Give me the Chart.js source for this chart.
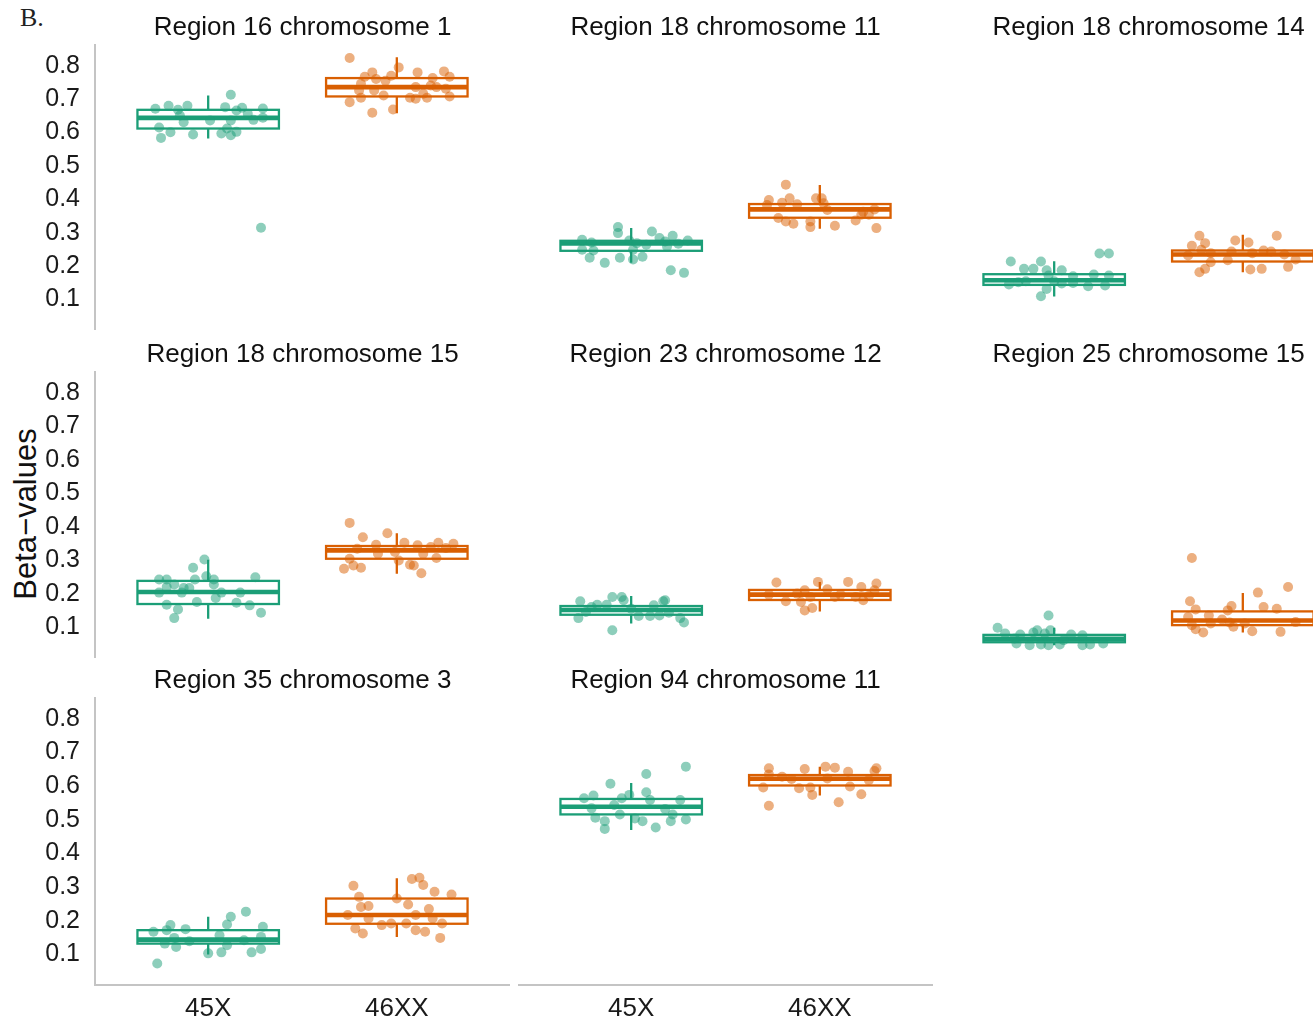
<!DOCTYPE html>
<html>
<head>
<meta charset="utf-8">
<script src="https://cdn.jsdelivr.net/npm/chart.js@4.4.1/dist/chart.umd.min.js"></script>
<style>
html,body{margin:0;padding:0;background:#fff;overflow:hidden;width:1313px;height:1023px;}
#wrap{position:relative;width:1313px;height:1023px;overflow:hidden;background:#fff;}
#wrap canvas{position:absolute;}
.lbl{position:absolute;white-space:nowrap;line-height:1;}
</style>
</head>
<body>
<div id="wrap">
  <div class="lbl" id="tag" style="left:20px;top:5px;font-family:'Liberation Serif','DejaVu Serif',serif;font-size:26px;color:#222;">B.</div>
  <div class="lbl" id="ytitle" style="left:25px;top:514px;transform:translate(-50%,-50%) rotate(-90deg);font-family:'Liberation Sans',Arial,sans-serif;font-size:31px;color:#111;">Beta−values</div>
</div>
<script>
// ---------------- DATA ----------------
const panelTitles = [
  'Region 16 chromosome 1', 'Region 18 chromosome 11', 'Region 18 chromosome 14',
  'Region 18 chromosome 15', 'Region 23 chromosome 12', 'Region 25 chromosome 15',
  'Region 35 chromosome 3', 'Region 94 chromosome 11'
];
const groups = ['45X', '46XX'];
const yTicks = [0.1, 0.2, 0.3, 0.4, 0.5, 0.6, 0.7, 0.8];

// box statistics per panel (order of panelTitles)
const lo45X   = [0.576, 0.204, 0.103, 0.120, 0.106, 0.041, 0.094, 0.464];
const q1_45X  = [0.606, 0.240, 0.138, 0.164, 0.132, 0.050, 0.126, 0.510];
const med45X  = [0.638, 0.262, 0.152, 0.200, 0.146, 0.060, 0.138, 0.533];
const q3_45X  = [0.662, 0.270, 0.170, 0.233, 0.158, 0.072, 0.166, 0.556];
const hi45X   = [0.705, 0.308, 0.209, 0.296, 0.188, 0.093, 0.206, 0.603];
const lo46XX  = [0.652, 0.306, 0.176, 0.254, 0.142, 0.079, 0.146, 0.566];
const q1_46XX = [0.702, 0.339, 0.208, 0.299, 0.176, 0.101, 0.185, 0.596];
const med46XX = [0.730, 0.364, 0.229, 0.324, 0.192, 0.115, 0.211, 0.616];
const q3_46XX = [0.757, 0.380, 0.241, 0.337, 0.206, 0.142, 0.260, 0.627];
const hi46XX  = [0.819, 0.437, 0.288, 0.375, 0.230, 0.197, 0.320, 0.652];

// individual samples: [jitter offset, beta-value]
const r16c1_45X = [[-0.28,0.665],[-0.21,0.674],[-0.16,0.662],[-0.11,0.674],[-0.13,0.625],[-0.26,0.609],[-0.25,0.578],[-0.20,0.595],[-0.08,0.588],[0.01,0.630],[0.12,0.707],[0.09,0.670],[0.15,0.660],[0.18,0.668],[0.21,0.650],[0.29,0.666],[0.24,0.632],[0.29,0.638],[0.07,0.591],[0.12,0.586],[0.15,0.596],[0.10,0.606],[0.12,0.630],[0.28,0.309],[-0.15,0.645]];
const r16c1_46XX = [[-0.25,0.817],[-0.17,0.761],[-0.13,0.774],[-0.11,0.754],[-0.06,0.749],[-0.03,0.764],[0.01,0.789],[-0.19,0.740],[-0.20,0.720],[-0.19,0.698],[-0.25,0.685],[-0.13,0.653],[-0.07,0.705],[-0.12,0.720],[-0.02,0.663],[0.11,0.774],[0.10,0.730],[0.07,0.698],[0.10,0.695],[0.14,0.710],[0.16,0.698],[0.19,0.757],[0.21,0.730],[0.25,0.777],[0.28,0.761],[0.26,0.725],[0.28,0.702],[0.18,0.735]];
const r18c11_45X = [[-0.26,0.273],[-0.21,0.265],[-0.26,0.243],[-0.20,0.241],[-0.22,0.219],[-0.14,0.204],[-0.06,0.219],[-0.07,0.311],[-0.07,0.293],[-0.01,0.271],[0.01,0.243],[0.01,0.214],[0.06,0.222],[0.11,0.298],[0.15,0.278],[0.18,0.268],[0.22,0.285],[0.19,0.253],[0.25,0.261],[0.30,0.271],[0.21,0.182],[0.28,0.174],[0.08,0.258],[0.03,0.263]];
const r18c11_46XX = [[-0.18,0.438],[-0.27,0.392],[-0.20,0.384],[-0.16,0.397],[-0.12,0.379],[-0.28,0.377],[-0.22,0.338],[-0.18,0.328],[-0.14,0.321],[-0.05,0.328],[-0.05,0.311],[-0.02,0.397],[0.01,0.397],[0.02,0.382],[0.04,0.362],[0.08,0.315],[0.19,0.331],[0.23,0.357],[0.26,0.348],[0.29,0.364],[0.30,0.308],[0.22,0.348]];
const r18c14_45X = [[-0.23,0.208],[-0.16,0.186],[-0.11,0.186],[-0.07,0.208],[-0.04,0.182],[0.04,0.182],[-0.07,0.104],[-0.04,0.126],[-0.24,0.139],[-0.19,0.146],[-0.03,0.166],[0.04,0.142],[0.10,0.164],[0.10,0.144],[0.18,0.134],[0.21,0.169],[0.24,0.232],[0.29,0.232],[0.27,0.136],[0.29,0.166],[0.00,0.149],[-0.15,0.149]];
const r18c14_46XX = [[-0.23,0.285],[-0.27,0.255],[-0.20,0.263],[-0.22,0.243],[-0.17,0.233],[-0.29,0.226],[-0.17,0.206],[-0.20,0.186],[-0.23,0.176],[-0.08,0.212],[-0.06,0.238],[-0.04,0.271],[0.03,0.265],[0.04,0.184],[0.10,0.186],[0.11,0.241],[0.15,0.238],[0.18,0.285],[0.24,0.192],[0.28,0.214],[0.22,0.229],[0.05,0.233]];
const r18c15_45X = [[-0.02,0.297],[-0.08,0.272],[-0.26,0.237],[-0.22,0.237],[-0.18,0.222],[-0.22,0.215],[-0.26,0.198],[-0.14,0.198],[-0.10,0.212],[-0.07,0.237],[-0.01,0.247],[0.03,0.237],[0.03,0.222],[-0.22,0.162],[-0.16,0.148],[-0.18,0.122],[-0.06,0.170],[0.04,0.182],[0.07,0.198],[0.15,0.168],[0.17,0.198],[0.22,0.160],[0.25,0.244],[0.28,0.138],[-0.13,0.212]];
const r18c15_46XX = [[-0.25,0.406],[-0.18,0.363],[-0.05,0.375],[-0.11,0.341],[-0.21,0.329],[-0.25,0.299],[-0.23,0.279],[-0.28,0.269],[-0.19,0.272],[-0.10,0.314],[0.01,0.294],[0.04,0.347],[0.07,0.281],[0.09,0.279],[0.11,0.339],[0.14,0.314],[0.13,0.256],[0.18,0.334],[0.21,0.301],[0.22,0.347],[0.26,0.331],[0.30,0.344],[-0.01,0.319]];
const r23c12_45X = [[-0.27,0.172],[-0.28,0.122],[-0.24,0.140],[-0.18,0.162],[-0.13,0.162],[-0.10,0.185],[-0.05,0.185],[-0.04,0.175],[-0.10,0.086],[0.04,0.128],[0.10,0.128],[0.15,0.130],[0.12,0.160],[0.17,0.172],[0.18,0.175],[0.20,0.138],[0.26,0.122],[0.28,0.109],[0.00,0.150],[-0.21,0.155]];
const r23c12_46XX = [[-0.23,0.228],[-0.18,0.172],[-0.12,0.195],[-0.10,0.170],[-0.08,0.205],[-0.05,0.185],[-0.08,0.145],[-0.04,0.152],[-0.01,0.230],[0.04,0.208],[0.08,0.185],[0.15,0.230],[0.22,0.215],[0.23,0.175],[0.29,0.205],[0.30,0.225],[0.26,0.188],[-0.27,0.192],[0.11,0.192],[0.19,0.185]];
const r25c15_45X = [[-0.30,0.093],[-0.26,0.076],[-0.20,0.046],[-0.18,0.073],[-0.13,0.041],[-0.11,0.079],[-0.09,0.086],[-0.07,0.043],[-0.03,0.130],[-0.02,0.086],[-0.03,0.041],[0.03,0.043],[0.09,0.073],[0.15,0.071],[0.15,0.041],[0.19,0.043],[0.26,0.046],[-0.21,0.061],[-0.05,0.076],[0.05,0.056]];
const r25c15_46XX = [[-0.27,0.301],[-0.28,0.172],[-0.25,0.148],[-0.29,0.125],[-0.27,0.101],[-0.25,0.089],[-0.21,0.079],[-0.18,0.130],[-0.17,0.106],[-0.11,0.118],[-0.08,0.145],[-0.06,0.158],[-0.07,0.109],[-0.05,0.096],[0.01,0.106],[0.05,0.083],[0.08,0.198],[0.11,0.155],[0.18,0.150],[0.20,0.081],[0.24,0.215],[0.28,0.110]];
const r35c3_45X = [[-0.27,0.067],[-0.29,0.161],[-0.20,0.181],[-0.22,0.166],[-0.23,0.126],[-0.17,0.116],[-0.12,0.169],[-0.10,0.133],[0.00,0.097],[0.07,0.100],[0.06,0.151],[0.10,0.183],[0.12,0.206],[0.10,0.121],[0.20,0.221],[0.23,0.100],[0.28,0.110],[0.29,0.176],[0.28,0.146],[0.19,0.136],[-0.18,0.143]];
const r35c3_46XX = [[-0.23,0.298],[-0.20,0.265],[-0.19,0.235],[-0.15,0.238],[-0.26,0.211],[-0.22,0.171],[-0.18,0.156],[-0.15,0.201],[-0.08,0.181],[-0.03,0.186],[0.00,0.260],[0.06,0.242],[0.05,0.186],[0.08,0.318],[0.12,0.322],[0.14,0.300],[0.10,0.166],[0.15,0.161],[0.17,0.229],[0.20,0.280],[0.19,0.201],[0.24,0.186],[0.23,0.143],[0.29,0.272],[0.10,0.211]];
const r94c11_45X = [[-0.25,0.558],[-0.20,0.566],[-0.11,0.601],[-0.19,0.500],[-0.14,0.490],[-0.14,0.467],[-0.09,0.538],[-0.05,0.558],[-0.06,0.510],[-0.01,0.568],[0.02,0.498],[0.06,0.490],[0.08,0.630],[0.08,0.576],[0.10,0.553],[0.13,0.471],[0.18,0.526],[0.21,0.490],[0.22,0.510],[0.26,0.553],[0.29,0.495],[0.29,0.652],[-0.21,0.528]];
const r94c11_46XX = [[-0.27,0.647],[-0.27,0.629],[-0.30,0.590],[-0.27,0.536],[-0.20,0.622],[-0.15,0.615],[-0.11,0.588],[-0.08,0.645],[-0.05,0.590],[-0.04,0.568],[0.03,0.652],[0.08,0.649],[0.10,0.546],[0.15,0.637],[0.16,0.593],[0.22,0.570],[0.29,0.639],[0.30,0.647],[0.04,0.617],[0.26,0.612]];

const samples45X  = [r16c1_45X, r18c11_45X, r18c14_45X, r18c15_45X, r23c12_45X, r25c15_45X, r35c3_45X, r94c11_45X];
const samples46XX = [r16c1_46XX, r18c11_46XX, r18c14_46XX, r18c15_46XX, r23c12_46XX, r25c15_46XX, r35c3_46XX, r94c11_46XX];

// ---------------- STYLE / LAYOUT ----------------
const FONT = "'Liberation Sans', Arial, Helvetica, sans-serif";
const lineColors  = ['#1b9e77', '#d95f02'];
const pointColors = ['rgba(27,158,119,0.5)', 'rgba(217,95,2,0.5)'];
const AXIS = '#c4c4c4';
const colLeft = [95, 518, 941];
const rowTop = [45, 372, 698];
const rowBottom = [330, 658, 985];
const areaW = 415;
const yAxisW = 65, titleH = 34, xAxisH = 40;
const BOX_HALF = 0.375;

const boxPlugin = {
  id: 'boxes',
  beforeDatasetsDraw(chart, args, opts) {
    const {ctx, chartArea, scales: {x, y}} = chart;
    ctx.save();
    ctx.beginPath();
    ctx.rect(chartArea.left, chartArea.top, chartArea.right - chartArea.left, chartArea.bottom - chartArea.top);
    ctx.clip();
    (opts.stats || []).forEach((s, k) => {
      const c = k + 1;
      const xl = x.getPixelForValue(c - BOX_HALF), xr = x.getPixelForValue(c + BOX_HALF);
      const xc = x.getPixelForValue(c);
      const yq1 = y.getPixelForValue(s.q1), yq3 = y.getPixelForValue(s.q3);
      const ym = y.getPixelForValue(s.med);
      const ylo = y.getPixelForValue(s.lo), yhi = y.getPixelForValue(s.hi);
      ctx.strokeStyle = lineColors[k];
      ctx.lineCap = 'butt';
      ctx.lineWidth = 2.3;
      ctx.beginPath();
      ctx.moveTo(xc, yq3); ctx.lineTo(xc, yhi);
      ctx.moveTo(xc, yq1); ctx.lineTo(xc, ylo);
      ctx.stroke();
      ctx.fillStyle = '#ffffff';
      ctx.fillRect(xl, yq3, xr - xl, yq1 - yq3);
      ctx.lineWidth = 2.3;
      ctx.strokeRect(xl, yq3, xr - xl, yq1 - yq3);
      ctx.lineWidth = 4.6;
      ctx.beginPath();
      ctx.moveTo(xl, ym); ctx.lineTo(xr, ym);
      ctx.stroke();
    });
    ctx.restore();
  }
};

const wrap = document.getElementById('wrap');

panelTitles.forEach((title, i) => {
  const col = i % 3, row = Math.floor(i / 3);
  const isLeft = col === 0;
  const isBottom = row === 2;
  const yw = isLeft ? yAxisW : 0;
  const xh = isBottom ? xAxisH : 0;
  const areaH = rowBottom[row] - rowTop[row];
  const cv = document.createElement('canvas');
  const W = areaW + yw, H = areaH + titleH + xh;
  cv.width = W; cv.height = H;
  cv.style.width = W + 'px'; cv.style.height = H + 'px';
  cv.style.left = (colLeft[col] - yw) + 'px';
  cv.style.top = (rowTop[row] - titleH) + 'px';
  wrap.appendChild(cv);

  const stats = [
    {lo: lo45X[i], q1: q1_45X[i], med: med45X[i], q3: q3_45X[i], hi: hi45X[i]},
    {lo: lo46XX[i], q1: q1_46XX[i], med: med46XX[i], q3: q3_46XX[i], hi: hi46XX[i]}
  ];

  new Chart(cv, {
    type: 'scatter',
    data: {
      datasets: [samples45X[i], samples46XX[i]].map((pts, g) => ({
        label: groups[g],
        data: pts.map(([j, v]) => ({x: g + 1 + j, y: v})),
        backgroundColor: pointColors[g],
        borderWidth: 0,
        pointRadius: 5,
        pointHoverRadius: 5
      }))
    },
    options: {
      responsive: false,
      animation: false,
      events: [],
      devicePixelRatio: 1,
      layout: {padding: 0, autoPadding: false},
      plugins: {
        legend: {display: false},
        tooltip: {enabled: false},
        title: {
          display: true, text: title, fullSize: false, color: '#111',
          font: {family: FONT, size: 26, weight: 'normal', lineHeight: '26px'},
          padding: {top: 4, bottom: 4}
        },
        boxes: {stats}
      },
      scales: {
        x: {
          type: 'linear', min: 0.4, max: 2.6, display: isBottom,
          grid: {display: false, drawTicks: false},
          border: {display: true, color: AXIS, width: 2},
          ticks: {
            color: '#1a1a1a', padding: 8, maxRotation: 0, autoSkip: false,
            font: {family: FONT, size: 26},
            callback: (v) => groups[Math.round(v) - 1]
          },
          afterBuildTicks: (s) => { s.ticks = groups.map((g, k) => ({value: k + 1})); },
          afterFit: (s) => { s.height = xh; s.paddingLeft = 0; s.paddingRight = 0; }
        },
        y: {
          type: 'linear', min: 0.003, max: 0.856, display: isLeft,
          grid: {display: false, drawTicks: false},
          border: {display: true, color: AXIS, width: 2},
          ticks: {
            color: '#1a1a1a', padding: 15, autoSkip: false, labelOffset: 2,
            font: {family: FONT, size: 25},
            callback: (v) => Number(v).toFixed(1)
          },
          afterBuildTicks: (s) => { s.ticks = yTicks.map(v => ({value: v})); },
          afterFit: (s) => { s.width = yw; s.paddingTop = 0; s.paddingBottom = 0; }
        }
      }
    },
    plugins: [boxPlugin]
  });
});
</script>
</body>
</html>
